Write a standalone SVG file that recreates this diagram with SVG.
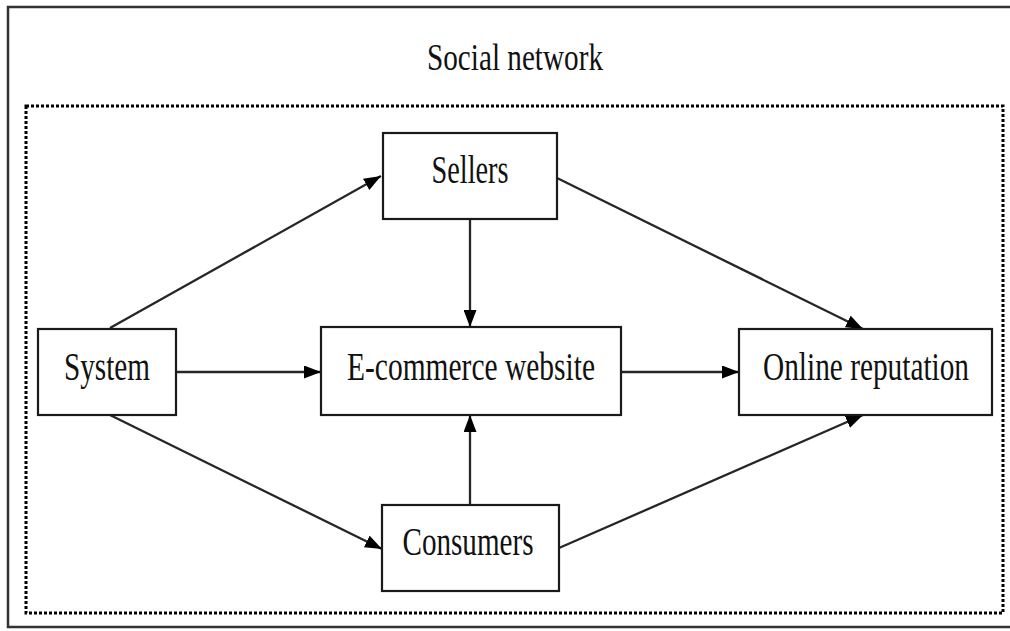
<svg xmlns="http://www.w3.org/2000/svg" width="1010" height="631" viewBox="0 0 1010 631">
<defs>
<marker id="ah" viewBox="0 0 17 13" refX="17" refY="6.5" markerWidth="17" markerHeight="13" markerUnits="userSpaceOnUse" orient="auto">
<path d="M0,0 L17,6.5 L0,13 Z" fill="#000"/>
</marker>
</defs>
<style>
.box{fill:#fff;stroke:#1a1a1a;stroke-width:2.2}
.lbl{font-family:"Liberation Serif","Times New Roman",serif;font-size:32px;fill:#111;text-anchor:middle}
.conn{stroke:#262626;stroke-width:2.3;fill:none;marker-end:url(#ah)}
</style>
<rect x="8" y="7" width="1010" height="620" fill="#fff" stroke="#333" stroke-width="2.5"/>
<rect x="26" y="106" width="977" height="507" fill="none" stroke="#000" stroke-width="3" stroke-dasharray="3 2"/>
<text class="lbl" transform="translate(515,70) scale(1,1.2)" x="0" y="0" textLength="176" lengthAdjust="spacingAndGlyphs">Social network</text>
<g id="connectors">
<line class="conn" x1="110" y1="328" x2="381" y2="176"/>
<line class="conn" x1="176" y1="372" x2="321" y2="372"/>
<line class="conn" x1="110" y1="415" x2="382" y2="549"/>
<line class="conn" x1="470" y1="219" x2="470" y2="327"/>
<line class="conn" x1="470" y1="505" x2="470" y2="415"/>
<line class="conn" x1="621" y1="372" x2="739" y2="372"/>
<line class="conn" x1="557" y1="178" x2="863" y2="329"/>
<line class="conn" x1="559" y1="548" x2="863" y2="415"/>
</g>
<g id="system">
<rect class="box" x="38" y="329" width="138" height="86"/>
<text class="lbl" transform="translate(107,380) scale(1,1.25)" x="0" y="0" textLength="86" lengthAdjust="spacingAndGlyphs">System</text>
</g>
<g id="sellers">
<rect class="box" x="383" y="133" width="174" height="86"/>
<text class="lbl" transform="translate(470,183) scale(1,1.25)" x="0" y="0" textLength="77" lengthAdjust="spacingAndGlyphs">Sellers</text>
</g>
<g id="ecommerce">
<rect class="box" x="321" y="327" width="300" height="88"/>
<text class="lbl" transform="translate(471,380) scale(1,1.25)" x="0" y="0" textLength="248" lengthAdjust="spacingAndGlyphs">E-commerce website</text>
</g>
<g id="reputation">
<rect class="box" x="739" y="329" width="253" height="86"/>
<text class="lbl" transform="translate(866,380) scale(1,1.25)" x="0" y="0" textLength="206" lengthAdjust="spacingAndGlyphs">Online reputation</text>
</g>
<g id="consumers">
<rect class="box" x="382" y="505" width="177" height="86"/>
<text class="lbl" transform="translate(468,555) scale(1,1.25)" x="0" y="0" textLength="131" lengthAdjust="spacingAndGlyphs">Consumers</text>
</g>
</svg>
